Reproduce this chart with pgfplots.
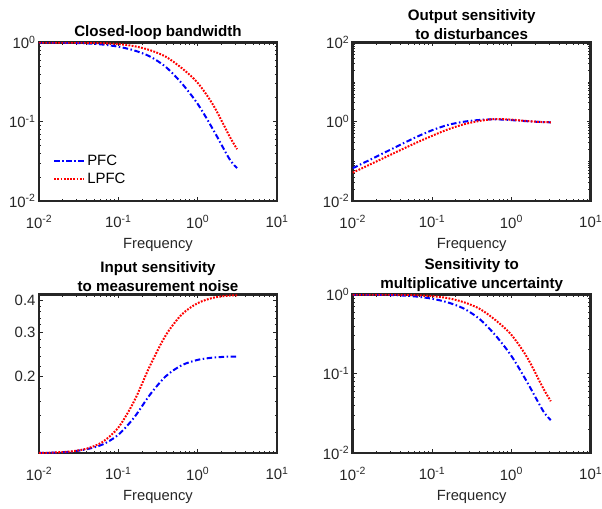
\documentclass[border=0pt]{standalone}
\usepackage{fontspec}
\setmainfont{Liberation Sans}
\usepackage{pgfplots}
\usepackage{pgfplotstable}
\pgfplotsset{compat=1.18}

\definecolor{axgray}{rgb}{0.15,0.15,0.15}

% closed-loop T (also used for multiplicative uncertainty)
\pgfplotstableread{
w      pfc    lpfc
0.01   0.999  1.000
0.0158 0.997  0.999
0.0251 0.990  0.997
0.0398 0.975  0.992
0.0631 0.943  0.979
0.1    0.885  0.955
0.158  0.795  0.900
0.251  0.665  0.800
0.398  0.490  0.660
0.631  0.305  0.475
1.0    0.168  0.310
1.585  0.078  0.160
2.512  0.034  0.066
3.14   0.026  0.045
}\bwtable

% output sensitivity
\pgfplotstableread{
w      pfc    lpfc
0.01   0.067  0.052
0.0158 0.105  0.080
0.0251 0.166  0.124
0.0398 0.262  0.192
0.0631 0.410  0.295
0.1    0.610  0.440
0.158  0.830  0.640
0.251  1.000  0.860
0.398  1.110  1.050
0.631  1.150  1.170
1.0    1.100  1.130
1.585  1.030  1.040
2.512  0.980  0.980
3.14   0.970  0.970
}\sotable

% input sensitivity
\pgfplotstableread{
w      pfc    lpfc
0.01   0.1000 0.1000
0.0158 0.1004 0.1005
0.0251 0.1012 0.1014
0.0398 0.1035 0.1040
0.0631 0.1080 0.1105
0.1    0.1180 0.1260
0.158  0.1380 0.1600
0.251  0.1700 0.2210
0.398  0.2010 0.2920
0.631  0.2220 0.3520
1.0    0.2330 0.3900
1.585  0.2380 0.4100
2.512  0.2400 0.4180
3.14   0.2400 0.4190
}\sitable

\tikzset{
  pfc/.style={blue, line width=2bp, dash pattern=on 5.5bp off 2.5bp on 1.5bp off 2.5bp},
  lpfc/.style={red, line width=2bp, dash pattern=on 1.8bp off 1.4bp},
}

\pgfplotsset{
  scale only axis, width=238bp, height=158.5bp,
  xmin=0.01, xmax=10,
  axis line style={line width=2.6bp, color=axgray},
  tick style={line width=1bp, color=axgray},
  major tick length=4bp, minor tick length=2.5bp,
  tick align=inside,
  xtick={0.01,0.1,1,10},
  xticklabels={10\textsuperscript{-2},10\textsuperscript{-1},10\textsuperscript{0},10\textsuperscript{1}},
  minor xtick={0.02,0.03,0.04,0.05,0.06,0.07,0.08,0.09,0.2,0.3,0.4,0.5,0.6,0.7,0.8,0.9,2,3,4,5,6,7,8,9},
  tick label style={font=\fontsize{15}{17}\selectfont, color=axgray},
  xticklabel style={yshift=-11bp},
  xlabel={Frequency},
  xlabel style={font=\fontsize{14.8}{17}\selectfont, color=axgray, yshift=-3bp},
  title style={font=\bfseries\fontsize{15.2}{19}\selectfont, align=center, yshift=-7bp},
  legend image code/.code={\draw[#1] (0bp,0bp) -- (30bp,0bp);},
}

\begin{document}
\begin{tikzpicture}
\useasboundingbox (0,0) rectangle (602bp,509bp);

\begin{loglogaxis}[at={(39bp,308bp)}, anchor=south west,
  title={Closed-loop bandwidth},
  ymin=0.01, ymax=1,
  ytick={0.01,0.1,1},
  yticklabels={10\textsuperscript{-2},10\textsuperscript{-1},10\textsuperscript{0}},
  minor ytick={0.02,0.03,0.04,0.05,0.06,0.07,0.08,0.09,0.2,0.3,0.4,0.5,0.6,0.7,0.8,0.9},
  legend style={at={(0.055,0.08)}, anchor=south west, draw=none, fill=none,
    font=\fontsize{15}{18}\selectfont, row sep=2bp, inner sep=1bp},
  legend cell align=left,
]
\addplot[pfc, smooth] table[x=w, y=pfc] {\bwtable};
\addlegendentry{PFC}
\addplot[lpfc, smooth] table[x=w, y=lpfc] {\bwtable};
\addlegendentry{LPFC}
\end{loglogaxis}

\begin{loglogaxis}[at={(352.7bp,308bp)}, anchor=south west,
  title={Output sensitivity\\to disturbances},
  ymin=0.01, ymax=100,
  ytick={0.01,1,100},
  yticklabels={10\textsuperscript{-2},10\textsuperscript{0},10\textsuperscript{2}},
  minor ytick={0.02,0.03,0.04,0.05,0.06,0.07,0.08,0.09,0.1,0.2,0.3,0.4,0.5,0.6,0.7,0.8,0.9,2,3,4,5,6,7,8,9,10,20,30,40,50,60,70,80,90},
]
\addplot[pfc, smooth] table[x=w, y=pfc] {\sotable};
\addplot[lpfc, smooth] table[x=w, y=lpfc] {\sotable};
\end{loglogaxis}

\begin{loglogaxis}[at={(39bp,56bp)}, anchor=south west,
  title={Input sensitivity\\to measurement noise},
  ymin=0.1, ymax=0.422,
  ytick={0.2,0.3,0.4},
  yticklabels={0.2,0.3,0.4},
  minor ytick={0.12,0.14,0.16,0.18,0.22,0.24,0.26,0.28,0.32,0.34,0.36,0.38},
]
\addplot[pfc, smooth] table[x=w, y=pfc] {\sitable};
\addplot[lpfc, smooth] table[x=w, y=lpfc] {\sitable};
\end{loglogaxis}

\begin{loglogaxis}[at={(352.7bp,56bp)}, anchor=south west,
  title={Sensitivity to\\multiplicative uncertainty},
  ymin=0.01, ymax=1,
  ytick={0.01,0.1,1},
  yticklabels={10\textsuperscript{-2},10\textsuperscript{-1},10\textsuperscript{0}},
  minor ytick={0.02,0.03,0.04,0.05,0.06,0.07,0.08,0.09,0.2,0.3,0.4,0.5,0.6,0.7,0.8,0.9},
]
\addplot[pfc, smooth] table[x=w, y=pfc] {\bwtable};
\addplot[lpfc, smooth] table[x=w, y=lpfc] {\bwtable};
\end{loglogaxis}
\end{tikzpicture}
\end{document}
